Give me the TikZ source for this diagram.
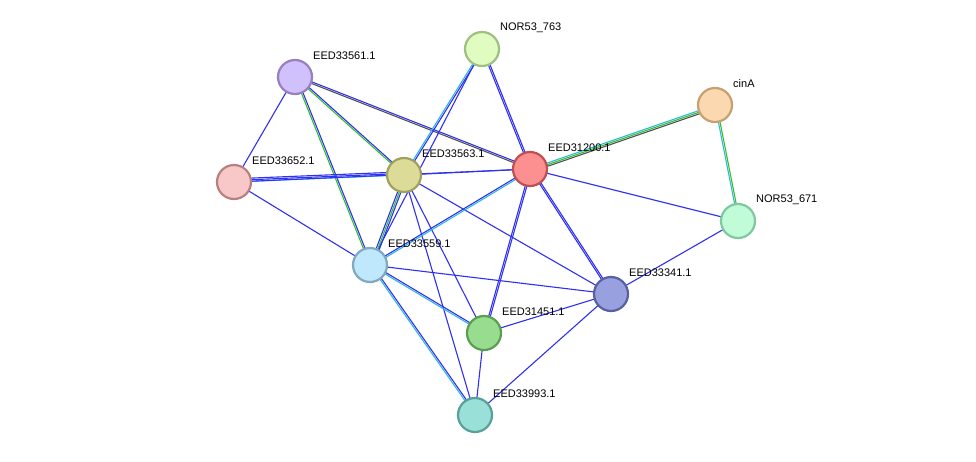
\documentclass[tikz,border=0pt]{standalone}
\usepackage{fontspec}
\setmainfont{Liberation Sans}
\usetikzlibrary{calc}
\definecolor{eb}{HTML}{3030F0}
\definecolor{ec}{HTML}{30B8D8}
\definecolor{eg}{HTML}{30C030}
\definecolor{ek}{HTML}{505050}
\tikzset{
  prot/.style={circle,minimum size=34pt,inner sep=0pt,line width=2.2pt},
  lab/.style={anchor=west,font=\fontsize{11}{12}\selectfont,inner sep=0pt},
}
\newcommand{\medge}[3]{%
  \foreach \cc [count=\k] in {#3} {%
    \pgfmathsetmacro{\off}{(\k-1)*1.6}
    \draw[\cc,line width=1.1pt] ($(#1)!\off pt!90:(#2)$) -- ($(#2)!\off pt!-90:(#1)$);
  }}
\begin{document}
\begin{tikzpicture}[x=1pt,y=-1pt]
\useasboundingbox (0,0) rectangle (976,461);
\coordinate (c763) at (482,49);
\coordinate (c561) at (295,77);
\coordinate (cA) at (715,105);
\coordinate (c652) at (234,182);
\coordinate (c563) at (404,175);
\coordinate (c200) at (530,169);
\coordinate (c671) at (738,221);
\coordinate (c559) at (370,265);
\coordinate (c341) at (611,294);
\coordinate (c451) at (484,333);
\coordinate (c993) at (475,415);
\medge{c561}{c652}{eb}
\medge{c561}{c563}{eg,eb}
\medge{c561}{c559}{eg,eb}
\medge{c561}{c200}{ek,eb}
\medge{c763}{c563}{ec,eb}
\medge{c763}{c559}{eb}
\medge{c763}{c200}{eb,eb}
\medge{cA}{c200}{ec,eg,ek}
\medge{cA}{c671}{ec,eg}
\medge{c652}{c563}{ec,eb,eb}
\medge{c652}{c200}{eb}
\medge{c652}{c559}{eb}
\medge{c563}{c200}{eb}
\medge{c563}{c559}{eb,eg,eb}
\medge{c563}{c341}{eb}
\medge{c563}{c451}{eb}
\medge{c563}{c993}{eb}
\medge{c200}{c559}{eb,ec}
\medge{c200}{c671}{eb}
\medge{c200}{c341}{eb,eb}
\medge{c200}{c451}{eb,eb}
\medge{c559}{c341}{eb}
\medge{c559}{c451}{ec,eb}
\medge{c559}{c993}{ec,eb}
\medge{c671}{c341}{eb}
\medge{c341}{c451}{eb}
\medge{c341}{c993}{eb}
\medge{c451}{c993}{eb}
\node[prot,fill={rgb,255:red,224;green,252;blue,192},draw={rgb,255:red,160;green,192;blue,128}] (n763) at (c763) {};
\node[prot,fill={rgb,255:red,208;green,192;blue,252},draw={rgb,255:red,152;green,128;blue,192}] (n561) at (c561) {};
\node[prot,fill={rgb,255:red,252;green,216;blue,176},draw={rgb,255:red,200;green,160;blue,112}] (nA) at (cA) {};
\node[prot,fill={rgb,255:red,248;green,200;blue,200},draw={rgb,255:red,184;green,128;blue,128}] (n652) at (c652) {};
\node[prot,fill={rgb,255:red,220;green,220;blue,152},draw={rgb,255:red,160;green,160;blue,96}] (n563) at (c563) {};
\node[prot,fill={rgb,255:red,252;green,144;blue,144},draw={rgb,255:red,192;green,80;blue,80}] (n200) at (c200) {};
\node[prot,fill={rgb,255:red,192;green,252;blue,216},draw={rgb,255:red,128;green,200;blue,160}] (n671) at (c671) {};
\node[prot,fill={rgb,255:red,192;green,232;blue,252},draw={rgb,255:red,128;green,168;blue,192}] (n559) at (c559) {};
\node[prot,fill={rgb,255:red,152;green,160;blue,224},draw={rgb,255:red,88;green,96;blue,160}] (n341) at (c341) {};
\node[prot,fill={rgb,255:red,152;green,220;blue,144},draw={rgb,255:red,88;green,160;blue,80}] (n451) at (c451) {};
\node[prot,fill={rgb,255:red,152;green,224;blue,216},draw={rgb,255:red,88;green,160;blue,152}] (n993) at (c993) {};
\node[lab] (l763) at (500,28) {NOR53\_763};
\node[lab] (l561) at (313,56) {EED33561.1};
\node[lab] (lA) at (733,84) {cinA};
\node[lab] (l652) at (252,161) {EED33652.1};
\node[lab] (l563) at (422,154) {EED33563.1};
\node[lab] (l200) at (548,148) {EED31200.1};
\node[lab] (l671) at (756,200) {NOR53\_671};
\node[lab] (l559) at (388,244) {EED33559.1};
\node[lab] (l341) at (629,273) {EED33341.1};
\node[lab] (l451) at (502,312) {EED31451.1};
\node[lab] (l993) at (493,394) {EED33993.1};
\end{tikzpicture}
\end{document}
